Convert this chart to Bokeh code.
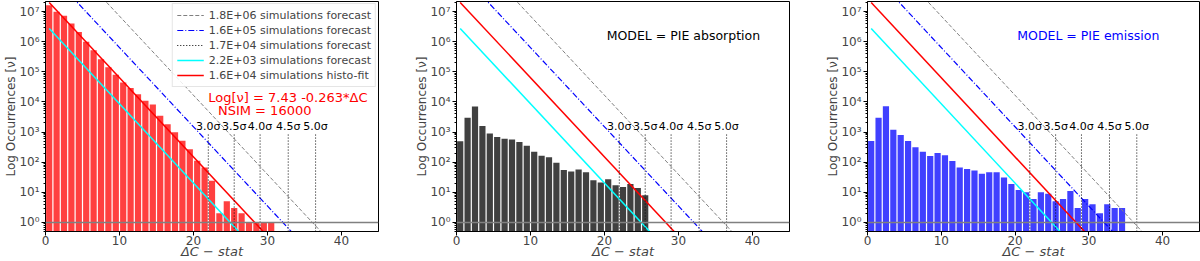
import numpy as np
from bokeh.plotting import figure
from bokeh.layouts import row
from bokeh.models import (FixedTicker, CustomJSTickFormatter, Span, Label,
                          Legend, LegendItem, Range1d)
from bokeh.embed import file_html
from bokeh.resources import INLINE

# ---------------- data ----------------
bin_width = 1.0
histofit_counts = [1.6e7, 9.8e6, 7.2e6, 4.0e6, 2.1e6, 1.0e6, 5.2e5, 2.6e5, 1.4e5, 7.9e4,
                   4.4e4, 2.9e4, 1.8e4, 1.1e4, 8.2e3, 3.5e3, 1.8e3, 980, 510, 270,
                   111, 67, 24, 2, 5, 3, 2, 1, 1, 1, 1]
absorption_counts = [490, 3000, 7000, 1580, 900, 690, 600, 570, 465, 350,
                     222, 163, 147, 96, 55, 49, 57, 46, 25, 21,
                     27, 17, 15, 19, 14, 8]
emission_counts = [500, 3000, 7200, 1200, 800, 500, 310, 220, 160, 200,
                   170, 110, 67, 59, 53, 41, 46, 46, 31, 19,
                   12, 10, 6, 10, 9, 5, 6, 11, 3, 6,
                   4, 2, 4, 3, 3]

# straight lines (log-linear) given by their end points
gray_x, gray_y = [0.5, 38.0], [2.2e9, 0.31]
blue_x, blue_y = [0.5, 34.0], [2.0e8, 0.31]
cyan_x, cyan_y = [0.5, 27.0], [2.75e6, 0.29]
red_x, red_y = [0.5, 30.0], [2.0e7, 0.35]

legend_labels = ["1.8E+06 simulations forecast", "1.6E+05 simulations forecast",
                 "1.7E+04 simulations forecast", "2.2E+03 simulations forecast",
                 "1.6E+04 simulations histo-fit"]

sigma_x = [22.0, 25.5, 29.0, 32.8, 36.5]
sigma_labels = ["3.0σ", "3.5σ", "4.0σ", "4.5σ", "5.0σ"]
sigma_top = 850
sigma_label_y = 1500

unit_level = 1.0
fit_text = "Log[ν] = 7.43 -0.263*ΔC"
nsim_text = "NSIM = 16000"
model_texts = ["MODEL = PIE absorption", "MODEL = PIE emission"]

x_ticks = [0, 10, 20, 30, 40]
y_major = [10.0 ** k for k in range(0, 8)]
y_minor = [m * 10.0 ** k for k in range(-1, 8) for m in range(2, 10)]

FONT = "DejaVu Sans"

sup_js = """
const sup = {'0':'⁰','1':'¹','2':'²','3':'³','4':'⁴','5':'⁵','6':'⁶','7':'⁷','8':'⁸','9':'⁹','-':'⁻'};
const e = Math.round(Math.log10(tick));
return '10' + String(e).split('').map(c => sup[c]).join('');
"""


def make_panel(counts, color, width, right_border, legend=False, model_text=None,
               model_color="black", fit_texts=False):
    p = figure(width=width, height=261, x_axis_type="linear", y_axis_type="log",
               x_range=Range1d(0, 45), y_range=Range1d(0.5, 2.15e7),
               output_backend="svg", toolbar_location=None,
               min_border_left=45, min_border_right=right_border,
               min_border_top=1, min_border_bottom=30)
    p.xgrid.visible = False
    p.ygrid.visible = False
    p.outline_line_color = "black"
    p.outline_line_width = 1
    p.outline_line_alpha = 1

    n = len(counts)
    centers = (np.arange(n) + 0.5) * bin_width
    half = 0.42 * bin_width
    p.quad(left=centers - half, right=centers + half, bottom=0.01, top=counts,
           fill_color=color, fill_alpha=0.75, line_color=None)

    p.add_layout(Span(location=unit_level, dimension="width", line_color="gray", line_width=1.5))

    r_gray = p.line(gray_x, gray_y, line_color="gray", line_width=1, line_dash="4 2")
    r_blue = p.line(blue_x, blue_y, line_color="blue", line_width=1.2, line_dash="6 2 1 2")
    r_cyan = p.line(cyan_x, cyan_y, line_color="cyan", line_width=1.5)
    r_red = p.line(red_x, red_y, line_color="red", line_width=1.5)
    r_sig = p.segment(x0=sigma_x, y0=[0.1] * len(sigma_x), x1=sigma_x, y1=[sigma_top] * len(sigma_x),
                      line_color="black", line_width=1, line_dash="1 2")
    for sx, sl in zip(sigma_x, sigma_labels):
        p.add_layout(Label(x=sx, y=sigma_label_y, text=sl, text_align="center",
                           text_baseline="middle", text_font=FONT, text_font_size="11px",
                           text_color="black"))

    if legend:
        lg = Legend(items=[LegendItem(label=legend_labels[0], renderers=[r_gray]),
                           LegendItem(label=legend_labels[1], renderers=[r_blue]),
                           LegendItem(label=legend_labels[2], renderers=[r_sig]),
                           LegendItem(label=legend_labels[3], renderers=[r_cyan]),
                           LegendItem(label=legend_labels[4], renderers=[r_red])],
                    location="top_right")
        lg.label_text_font = FONT
        lg.label_text_font_size = "11px"
        lg.glyph_width = 27
        lg.glyph_height = 14
        lg.label_height = 14
        lg.spacing = 1
        lg.padding = 4
        lg.margin = 2
        lg.label_standoff = 5
        lg.border_line_color = "#cccccc"
        lg.background_fill_alpha = 0.85
        p.add_layout(lg)

    if fit_texts:
        p.add_layout(Label(x=22.0, y=10 ** 4.15, text=fit_text, text_baseline="middle",
                           text_font=FONT, text_font_size="13px", text_color="red"))
        p.add_layout(Label(x=23.3, y=10 ** 3.71, text=nsim_text, text_baseline="middle",
                           text_font=FONT, text_font_size="13px", text_color="red"))
    if model_text:
        p.add_layout(Label(x=20.3, y=10 ** 6.19, text=model_text, text_baseline="middle",
                           text_font=FONT, text_font_size="12.5px", text_color=model_color))

    p.xaxis.ticker = FixedTicker(ticks=x_ticks)
    p.yaxis.ticker = FixedTicker(ticks=y_major, minor_ticks=y_minor)
    p.yaxis.formatter = CustomJSTickFormatter(code=sup_js)
    for ax in (p.xaxis[0], p.yaxis[0]):
        ax.major_tick_out = 4
        ax.major_tick_in = 0
        ax.minor_tick_out = 2
        ax.minor_tick_in = 0
        ax.major_label_text_font = FONT
        ax.major_label_text_font_size = "12px"
        ax.axis_label_text_font = FONT
        ax.major_tick_line_color = "black"
        ax.minor_tick_line_color = "black"
        ax.axis_line_color = "black"
    p.xaxis.axis_label = "ΔC − stat"
    p.xaxis.axis_label_text_font_style = "italic"
    p.xaxis.axis_label_text_font_size = "13px"
    p.xaxis.axis_label_standoff = -4
    p.xaxis.major_label_standoff = 0
    p.yaxis.axis_label = "Log Occurrences [ν]"
    p.yaxis.axis_label_text_font_style = "normal"
    p.yaxis.axis_label_text_font_size = "12px"
    p.yaxis.axis_label_standoff = -2
    p.yaxis.major_label_standoff = 2
    return p


p1 = make_panel(histofit_counts, "red", 411, 33, legend=True, fit_texts=True)
p2 = make_panel(absorption_counts, "black", 411, 33, model_text=model_texts[0])
p3 = make_panel(emission_counts, "blue", 378, 1, model_text=model_texts[1], model_color="blue")

layout = row(p1, p2, p3)
open("out.html", "w").write(file_html(layout, INLINE))
